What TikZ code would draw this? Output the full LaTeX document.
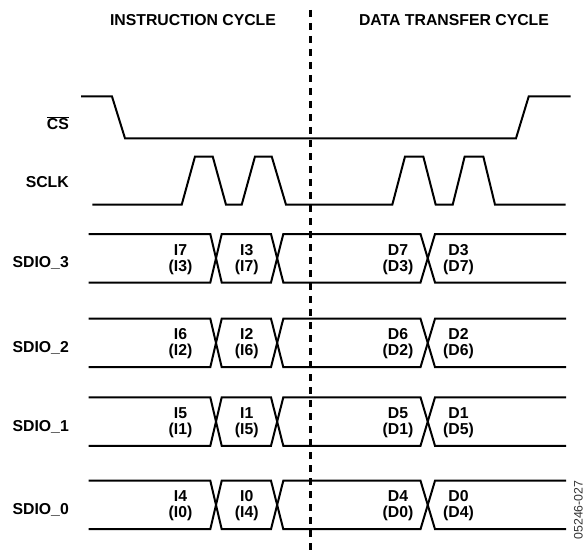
\documentclass[tikz,border=0pt]{standalone}
\usepackage{fontspec}
\setmainfont{Liberation Sans}
\begin{document}
\begin{tikzpicture}[x=1pt,y=-1pt,
  wave/.style={line width=2pt, line join=miter},
  sig/.style={font=\fontsize{15.8}{15}\selectfont\bfseries, anchor=base east, inner sep=0pt},
  hdr/.style={font=\fontsize{15.8}{15}\selectfont\bfseries, anchor=base, inner sep=0pt},
  bit/.style={font=\fontsize{15.8}{16}\selectfont\bfseries, align=center, inner sep=0pt}]
\useasboundingbox (0,0) rectangle (585,556);

% headers
\node[hdr] (hi) at (193,26) {INSTRUCTION CYCLE};
\node[hdr] (hd) at (454,26) {DATA TRANSFER CYCLE};

% divider
\coordinate (dtop) at (310.7,10);
\coordinate (dbot) at (310.7,553);
\draw[line width=2.5pt, dash pattern=on 6.7pt off 6.3pt] (dtop) -- (dbot);

% signal names
\node[sig] (ncs) at (69,130) {$\overline{\hbox{CS}}$};
\node[sig] (nsclk) at (69,187.3) {SCLK};

% CS
\draw[wave] (81,96.5) -- (112,96.5) -- (125,138.3) -- (516,138.3) -- (528.7,96.5) -- (570.7,96.5);

% SCLK
\draw[wave] (92.3,204.7) -- (181.7,204.7) -- (195,156.5) -- (212.7,156.5) -- (226,204.7)
  -- (241.7,204.7) -- (255,156.5) -- (271.7,156.5) -- (286,204.7)
  -- (392.3,204.7) -- (405,156.5) -- (423.3,156.5) -- (435.7,204.7)
  -- (452.7,204.7) -- (464.7,156.5) -- (483.3,156.5) -- (495,204.7) -- (565.7,204.7);

% buses
\foreach \T/\nm/\a/\b/\c/\d in {
   234/3/I7/I3/D7/D3,
   318.7/2/I6/I2/D6/D2,
   397.3/1/I5/I1/D5/D1,
   480.7/0/I4/I0/D4/D0}{
  \pgfmathsetmacro\B{\T+48.5}
  \pgfmathsetmacro\M{\T+24.25}
  \draw[wave] (88.5,\T) -- (210.3,\T) -- (221.7,\B) -- (271,\B) -- (283.3,\T) -- (420.5,\T) -- (435,\B) -- (566,\B);
  \draw[wave] (88.5,\B) -- (210.3,\B) -- (221.7,\T) -- (271,\T) -- (283.3,\B) -- (420.5,\B) -- (435,\T) -- (566,\T);
  \node[sig] (s\nm) at (69,\M+9.6) {SDIO\_\nm};
  \node[bit] (ba\nm) at (180.5,\M+1) {\a\\(\b)};
  \node[bit] (bb\nm) at (246.7,\M+1) {\b\\(\a)};
  \node[bit] (bc\nm) at (398,\M+1) {\c\\(\d)};
  \node[bit] (bd\nm) at (458.5,\M+1) {\d\\(\c)};
}

% figure number
\node[rotate=90, font=\fontsize{12.3}{12}\selectfont, text=black!80, inner sep=0pt] (fig) at (578.5,510) {05246-027};
\end{tikzpicture}
\end{document}
